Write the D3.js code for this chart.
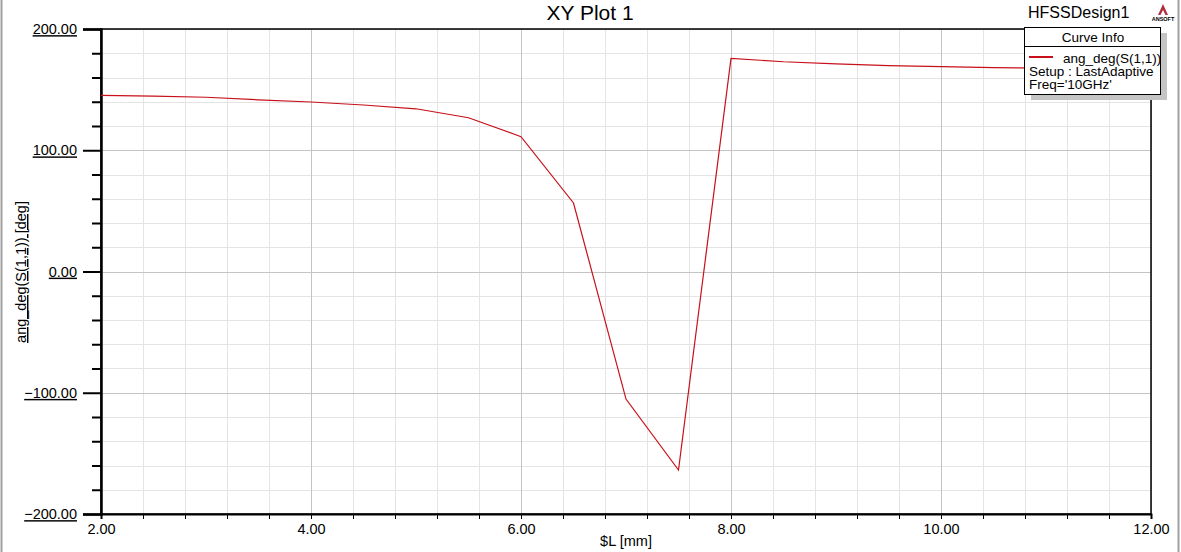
<!DOCTYPE html>
<html><head><meta charset="utf-8">
<script src="https://cdn.jsdelivr.net/npm/d3@7"></script>
<style>
body{margin:0;background:#fff;}
svg{display:block;font-family:"Liberation Sans",Arial,sans-serif;}
</style></head>
<body><svg id="c" width="1181" height="552"></svg>
<script>
const xValues = [2,2.5,3,3.5,4,4.5,5,5.5,6,6.5,7,7.5,8,8.5,9,9.5,10,10.5,11,11.5,12];
const angDeg = [145.3,144.7,143.7,141.6,139.8,137.3,134.2,126.8,111.2,56.5,-105.2,-163.7,175.8,173.0,171.2,169.8,168.9,168.2,167.7,167.2,166.8];
const xTicks = [2,4,6,8,10,12];
const yTicks = [-200,-100,0,100,200];
const title = "XY Plot 1";
const designName = "HFSSDesign1";
const xTitle = "$L [mm]";
const yTitle = "ang_deg(S(1,1)) [deg]";
const legendLines = ["ang_deg(S(1,1))","Setup : LastAdaptive","Freq='10GHz'"];

const svg = d3.select("#c");
const L=101,R=1151,T=29,B=514;
const x = d3.scaleLinear().domain([2,12]).range([L,R]);
const y = d3.scaleLinear().domain([-200,200]).range([B,T]);
const xMinor = d3.range(0,26).map(i=>2+i*0.4).filter(v=>!xTicks.some(t=>Math.abs(t-v)<1e-6));
const yMinor = d3.range(0,21).map(i=>-200+i*20).filter(v=>!yTicks.some(t=>Math.abs(t-v)<1e-6));

// window edges
svg.append("line").attr("x1",1.5).attr("x2",1.5).attr("y1",0).attr("y2",552).attr("stroke","#a0a0a0").attr("stroke-width",2);
svg.append("line").attr("x1",1178.5).attr("x2",1178.5).attr("y1",0).attr("y2",552).attr("stroke","#a0a0a0").attr("stroke-width",2);

// grid
const g = svg.append("g");
g.selectAll(".vxm").data(xMinor).join("line").attr("x1",d=>Math.round(x(d))+0.5).attr("x2",d=>Math.round(x(d))+0.5).attr("y1",T).attr("y2",B).attr("stroke","#e4e4e4");
g.selectAll(".hym").data(yMinor).join("line").attr("y1",d=>Math.round(y(d))+0.5).attr("y2",d=>Math.round(y(d))+0.5).attr("x1",L).attr("x2",R).attr("stroke","#e4e4e4");
g.selectAll(".vx").data(xTicks).join("line").attr("x1",d=>Math.round(x(d))+0.5).attr("x2",d=>Math.round(x(d))+0.5).attr("y1",T).attr("y2",B).attr("stroke","#c4c4c4");
g.selectAll(".hy").data(yTicks).join("line").attr("y1",d=>Math.round(y(d))+0.5).attr("y2",d=>Math.round(y(d))+0.5).attr("x1",L).attr("x2",R).attr("stroke","#c4c4c4");

// frame
svg.append("rect").attr("x",L).attr("y",T).attr("width",R-L).attr("height",B-T).attr("fill","none").attr("stroke","#000").attr("stroke-width",1.5);

// y axis
const yAx = svg.append("g").attr("transform",`translate(${L},0)`)
  .call(d3.axisLeft(y).tickValues(yTicks).tickSize(18).tickPadding(6).tickFormat(d3.format(".2f")));
yAx.select(".domain").attr("stroke-width",2.5);
yAx.selectAll(".tick line").attr("stroke-width",2);
yAx.selectAll("text").attr("font-size",14.5).attr("font-family","Liberation Sans, Arial, sans-serif").attr("fill","#000").style("text-decoration","underline");
const yAxm = svg.append("g").attr("transform",`translate(${L},0)`)
  .call(d3.axisLeft(y).tickValues(yMinor).tickSize(9).tickFormat(""));
yAxm.select(".domain").remove();
yAxm.selectAll(".tick line").attr("stroke-width",2);

// x axis
const xAx = svg.append("g").attr("transform",`translate(0,${B})`)
  .call(d3.axisBottom(x).tickValues(xTicks).tickSize(5).tickPadding(5).tickFormat(d3.format(".2f")));
xAx.select(".domain").attr("stroke-width",2);
xAx.selectAll("text").attr("font-size",14.5).attr("font-family","Liberation Sans, Arial, sans-serif").attr("fill","#000");
const xAxm = svg.append("g").attr("transform",`translate(0,${B})`)
  .call(d3.axisBottom(x).tickValues(xMinor).tickSize(5).tickFormat(""));
xAxm.select(".domain").remove();

// line
svg.append("path").datum(xValues.map((v,i)=>[v,angDeg[i]]))
  .attr("d",d3.line().x(d=>x(d[0])).y(d=>y(d[1])))
  .attr("fill","none").attr("stroke","#c8101a").attr("stroke-width",1.2);

// titles
svg.append("text").attr("x",590).attr("y",20).attr("text-anchor","middle").attr("font-size",21).text(title);
svg.append("text").attr("x",1028).attr("y",18).attr("font-size",16).text(designName);
svg.append("text").attr("x",626).attr("y",546).attr("text-anchor","middle").attr("font-size",14.5).text(xTitle);
svg.append("text").attr("transform","translate(26,272) rotate(-90)").attr("text-anchor","middle").attr("font-size",14.5).style("text-decoration","underline").text(yTitle);

// logo
const lg = svg.append("g").attr("transform","translate(1158,4)");
lg.append("path").attr("d","M0,11 L5,0 L10,11 L7.5,11 L5,6 L2.5,11 Z").attr("fill","#b03040");
lg.append("text").attr("x",5).attr("y",17).attr("text-anchor","middle").attr("font-size",5.5).attr("font-weight","bold").text("ANSOFT");

// legend
const lx=1024, ly=27, lw=136, lh=67;
svg.append("rect").attr("x",lx+7).attr("y",ly+6).attr("width",lw).attr("height",lh).attr("fill","#c4c4c4");
svg.append("rect").attr("x",lx+0.5).attr("y",ly+0.5).attr("width",lw).attr("height",lh).attr("fill","#fff").attr("stroke","#000");
svg.append("line").attr("x1",lx).attr("x2",lx+lw).attr("y1",ly+19.5).attr("y2",ly+19.5).attr("stroke","#000");
svg.append("text").attr("x",lx+lw/2+1).attr("y",ly+15).attr("text-anchor","middle").attr("font-size",13.5).text("Curve Info");
svg.append("line").attr("x1",lx+5).attr("x2",lx+29).attr("y1",ly+30).attr("y2",ly+30).attr("stroke","#c8101a").attr("stroke-width",2);
svg.append("text").attr("x",lx+39).attr("y",ly+36).attr("font-size",13.5).text(legendLines[0]);
svg.append("text").attr("x",lx+5).attr("y",ly+49).attr("font-size",13.5).text(legendLines[1]);
svg.append("text").attr("x",lx+5).attr("y",ly+62).attr("font-size",13.5).text(legendLines[2]);
</script></body></html>
